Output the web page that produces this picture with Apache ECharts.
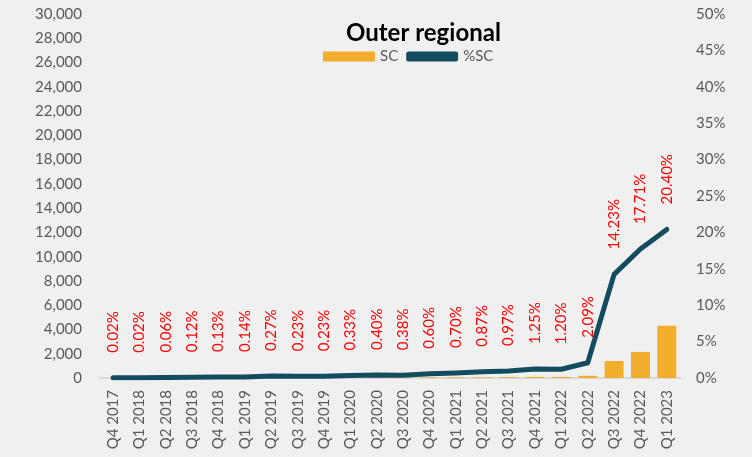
<!DOCTYPE html>
<html>
<head>
<meta charset="utf-8">
<script src="https://cdn.jsdelivr.net/npm/echarts@6/dist/echarts.min.js"></script>
<style>
  html, body { margin: 0; padding: 0; background: #f0f0f0; }
  #chart { width: 752px; height: 457px; }
</style>
</head>
<body>
<div id="chart"></div>
<script>
const quarters = [
  'Q4 2017', 'Q1 2018', 'Q2 2018', 'Q3 2018', 'Q4 2018', 'Q1 2019', 'Q2 2019',
  'Q3 2019', 'Q4 2019', 'Q1 2020', 'Q2 2020', 'Q3 2020', 'Q4 2020', 'Q1 2021',
  'Q2 2021', 'Q3 2021', 'Q4 2021', 'Q1 2022', 'Q2 2022', 'Q3 2022', 'Q4 2022',
  'Q1 2023'
]
// SC counts (bars, left axis)
const scValues = [
  3, 3, 8, 15, 15, 18, 30, 28, 28, 35, 40, 40, 50, 55,
  60, 70, 90, 90, 180, 1400, 2150, 4300
]
// %SC (line, right axis)
const scShare = [
  0.02, 0.02, 0.06, 0.12, 0.13, 0.14, 0.27, 0.23, 0.23, 0.33, 0.40, 0.38,
  0.60, 0.70, 0.87, 0.97, 1.25, 1.20, 2.09, 14.23, 17.71, 20.40
]

const axisText = { color: '#595959', fontSize: 15, fontFamily: 'Lato' }

const chart = echarts.init(document.getElementById('chart'), null, { renderer: 'canvas' })

chart.setOption({
  backgroundColor: '#f0f0f0',
  animation: false,
  title: {
    text: 'Outer regional',
    left: 341,
    top: 16,
    textStyle: { fontFamily: 'Lato', fontWeight: 'bold', fontSize: 24, color: '#000' }
  },
  legend: {
    left: 318,
    top: 44,
    itemGap: 8,
    itemWidth: 52,
    itemHeight: 10,
    textStyle: { color: '#595959', fontSize: 15, fontFamily: 'Lato' },
    data: [
      { name: 'SC', icon: 'rect' },
      { name: '%SC', icon: 'roundRect', itemStyle: { color: '#134b5f' } }
    ]
  },
  grid: { left: 100, right: 72, top: 14, bottom: 79 },
  xAxis: {
    type: 'category',
    data: quarters,
    axisTick: { show: false },
    axisLine: { lineStyle: { color: '#d9d9d9', width: 2 } },
    axisLabel: { ...axisText, rotate: 90, interval: 0, margin: 12 }
  },
  yAxis: [
    {
      type: 'value',
      min: 0,
      max: 30000,
      interval: 2000,
      splitLine: { show: false },
      axisLabel: {
        ...axisText,
        margin: 18,
        formatter: v => v.toLocaleString('en-US')
      }
    },
    {
      type: 'value',
      min: 0,
      max: 50,
      interval: 5,
      splitLine: { show: false },
      axisLabel: { ...axisText, margin: 16, formatter: '{value}%' }
    }
  ],
  series: [
    {
      name: 'SC',
      type: 'bar',
      data: scValues,
      barWidth: 19,
      itemStyle: { color: '#f4ae2e' }
    },
    {
      name: '%SC',
      type: 'line',
      yAxisIndex: 1,
      data: scShare,
      // labels hang off symbols, so keep zero-size points
      symbol: 'circle',
      symbolSize: 0,
      showSymbol: true,
      lineStyle: { color: '#134b5f', width: 5, cap: 'round', join: 'round' },
      itemStyle: { color: '#134b5f' },
      label: {
        show: true,
        position: 'top',
        distance: 25,
        rotate: 90,
        align: 'left',
        verticalAlign: 'middle',
        color: '#ff0000',
        fontSize: 15,
        fontFamily: 'Lato',
        formatter: p => p.value.toFixed(2) + '%'
      }
    }
  ]
})
</script>
</body>
</html>
